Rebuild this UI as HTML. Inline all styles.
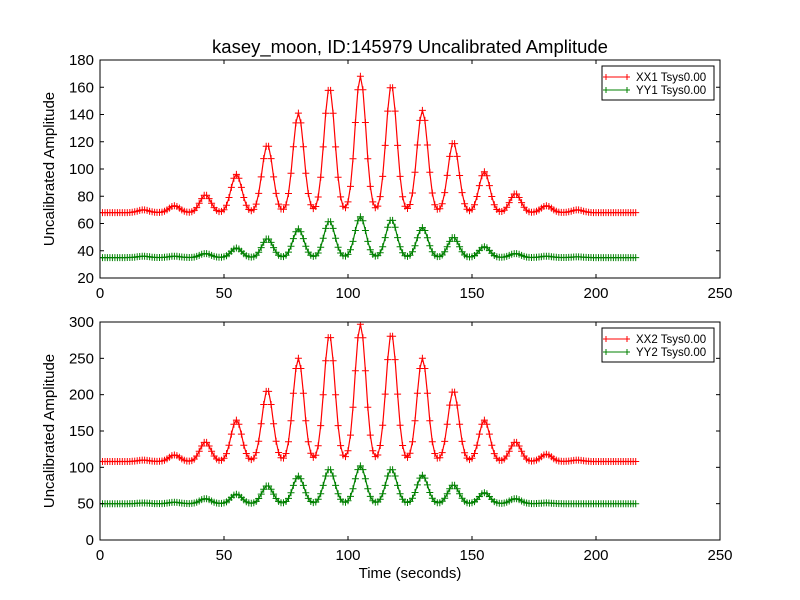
<!DOCTYPE html>
<html><head><meta charset="utf-8"><style>
html,body{margin:0;padding:0;background:#fff;}
svg{display:block;font-family:"Liberation Sans","DejaVu Sans",sans-serif;}
</style></head><body>
<svg id="chart" width="800" height="600" viewBox="0 0 800 600">
<rect width="800" height="600" fill="#fff"/>
<text x="410" y="53" font-size="18.5" text-anchor="middle">kasey_moon, ID:145979 Uncalibrated Amplitude</text>
<text x="410" y="578" font-size="15" text-anchor="middle">Time (seconds)</text>
</svg>
<script>
// Peak times (seconds) and peak values
const peakTimes = [17.5,30,42.5,55,67.5,80,92.5,105,117.5,130,142.5,155,167.5,180,192.5];
const xx1Peaks = [70,73,81,96,118,141,160,168,162,143,120,98,82,73,70];
const yy1Peaks = [36,36,38,42,49,56,62,65,63,57,50,43,38,36,35.5];
const xx2Peaks = [110,117,135,165,207,250,283,297,285,250,206,165,135,118,110];
const yy2Peaks = [51,52,57,63,75,88,98,102,98,89,76,65,57,51,50];
const baselines = {xx1:68, yy1:35, xx2:108, yy2:50};
const xTicks = [0,50,100,150,200,250];
const yTicksTop = [20,40,60,80,100,120,140,160,180];
const yTicksBot = [0,50,100,150,200,250,300];
const tMax = 216;

const svg = document.getElementById('chart');
const NS = 'http://www.w3.org/2000/svg';
function mk(tag, attrs, parent){const e=document.createElementNS(NS,tag);for(const k in attrs)e.setAttribute(k,attrs[k]);(parent||svg).appendChild(e);return e;}

function series(peaks, base){
  const pts=[];
  for(let t=0;t<=tMax;t++){
    let v=base;
    for(let i=0;i<peakTimes.length;i++){const d=t-peakTimes[i];v+=(peaks[i]-base)*Math.exp(-d*d/(2*2.2*2.2));}
    pts.push([t,v]);
  }
  return pts;
}

function panel(name, top, bottom, ymin, ymax, yTicks, defs, legendNames){
  const L=100,R=720;
  const sx=v=>L+(v-0)/(250-0)*(R-L);
  const sy=v=>bottom-(v-ymin)/(ymax-ymin)*(bottom-top);
  const g=mk('g',{});
  
  
  const clipId='clip-'+name;
  const cp=mk('clipPath',{id:clipId},g);mk('rect',{x:L,y:top,width:R-L,height:bottom-top},cp);
  defs.forEach(s=>{
    const pts=series(s.peaks,s.base);
    const sg=mk('g',{'clip-path':'url(#'+clipId+')'},g);
    
    
    mk('polyline',{points:pts.map(p=>sx(p[0]).toFixed(1)+','+sy(p[1]).toFixed(1)).join(' '),fill:'none',stroke:s.color,'stroke-width':1.2},sg);
    let d='';
    pts.forEach(p=>{const x=sx(p[0]),y=sy(p[1]);d+=`M${(x-3.5).toFixed(1)},${y.toFixed(1)}h7M${x.toFixed(1)},${(y-3.5).toFixed(1)}v7`;});
    mk('path',{d,stroke:s.color,'stroke-width':1,fill:'none'},sg);
  });
  const fr=mk('rect',{x:L,y:top,width:R-L,height:bottom-top,fill:'none',stroke:'#000','stroke-width':1},g);
  
  
  xTicks.forEach(v=>{
    const x=sx(v);
    mk('line',{x1:x,x2:x,y1:bottom,y2:bottom-4,stroke:'#000'},g);
    mk('line',{x1:x,x2:x,y1:top,y2:top+4,stroke:'#000'},g);
    const t=mk('text',{x:x,y:bottom+20,'font-size':15,'text-anchor':'middle'},g);t.textContent=v;
    
    
  });
  yTicks.forEach(v=>{
    const y=sy(v);
    mk('line',{x1:L,x2:L+4,y1:y,y2:y,stroke:'#000'},g);
    mk('line',{x1:R,x2:R-4,y1:y,y2:y,stroke:'#000'},g);
    const t=mk('text',{x:L-6,y:y+5,'font-size':15,'text-anchor':'end'},g);t.textContent=v;
    
    
  });
  const yt=mk('text',{x:0,y:0,'font-size':15,'text-anchor':'middle',transform:`translate(54,${(top+bottom)/2}) rotate(-90)`},g);
  yt.textContent='Uncalibrated Amplitude';
  
  
  const lg=mk('g',{},g);
  
  
  mk('rect',{x:602,y:top+6,width:112,height:34,fill:'#fff',stroke:'#000','stroke-width':1},lg);
  defs.forEach((s,i)=>{
    const y=top+17+i*13;
    const e=mk('g',{},lg);
    
    
    mk('line',{x1:606,x2:627,y1:y,y2:y,stroke:s.color},e);
    mk('path',{d:`M603,${y}h6M606,${y-3}v6M624,${y}h6M627,${y-3}v6`,stroke:s.color},e);
    const t=mk('text',{x:636,y:y+4,'font-size':11.5},e);t.textContent=legendNames[i];
  });
}

panel('top',60,278,20,180,yTicksTop,[
  {key:'xx1',peaks:xx1Peaks,base:baselines.xx1,color:'#ff0000'},
  {key:'yy1',peaks:yy1Peaks,base:baselines.yy1,color:'#008000'}],['XX1 Tsys0.00','YY1 Tsys0.00']);
panel('bottom',322,540,0,300,yTicksBot,[
  {key:'xx2',peaks:xx2Peaks,base:baselines.xx2,color:'#ff0000'},
  {key:'yy2',peaks:yy2Peaks,base:baselines.yy2,color:'#008000'}],['XX2 Tsys0.00','YY2 Tsys0.00']);
</script>
</body></html>
